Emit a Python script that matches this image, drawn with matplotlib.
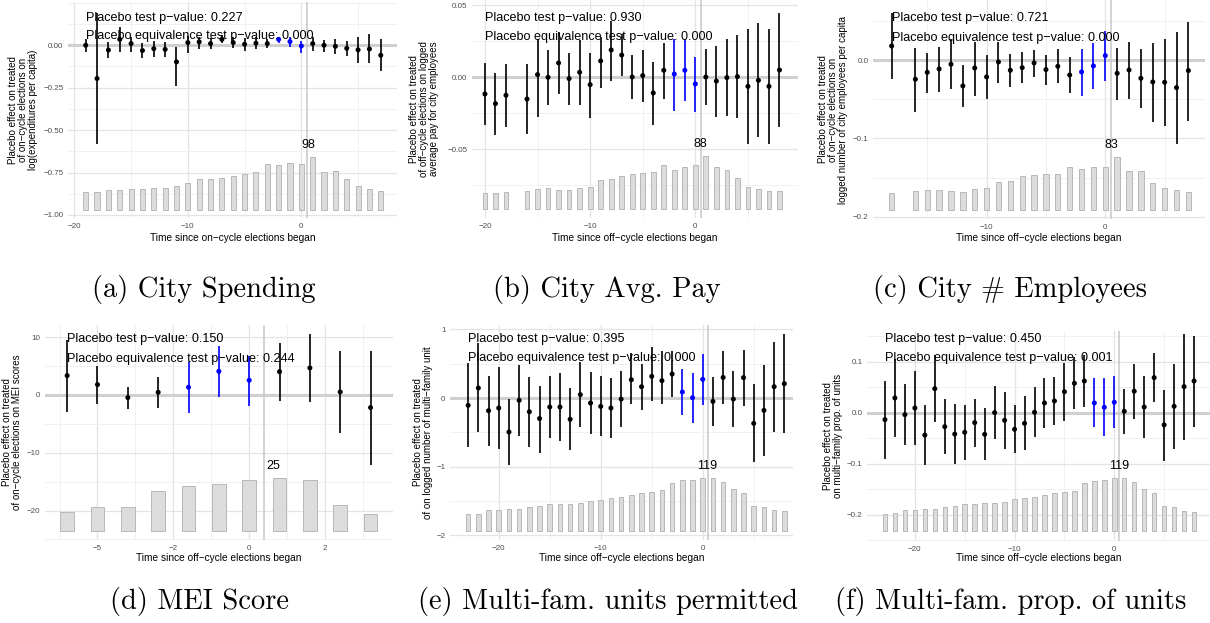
import numpy as np
import matplotlib
matplotlib.use('Agg')
import matplotlib.pyplot as plt
from matplotlib.ticker import FixedLocator, MultipleLocator

plt.rcParams['font.family'] = ['Liberation Sans', 'DejaVu Sans']

# ---------------- data ----------------
# (a) City Spending
a_x = list(range(-19, 8))
a_est = [0.000, -0.196, -0.028, 0.035, 0.010, -0.031, -0.020, -0.024, -0.098, 0.016,
         0.020, 0.010, 0.035, 0.016, 0.006, 0.012, 0.010, 0.035, 0.022, -0.004,
         0.010, 0.000, -0.006, -0.018, -0.027, -0.022, -0.059]
a_lo = [-0.037, -0.580, -0.073, -0.037, -0.037, -0.073, -0.067, -0.071, -0.238, -0.043,
        -0.022, -0.024, 0.012, -0.018, -0.031, -0.024, -0.014, 0.016, -0.012, -0.043,
        -0.031, -0.037, -0.051, -0.063, -0.102, -0.106, -0.153]
a_hi = [0.035, 0.190, 0.022, 0.106, 0.047, 0.012, 0.027, 0.022, -0.008, 0.055,
        0.047, 0.041, 0.059, 0.047, 0.041, 0.047, 0.035, 0.051, 0.051, 0.027,
        0.051, 0.031, 0.035, 0.027, 0.047, 0.067, 0.035]
a_n = [32, 32, 36, 37, 39, 39, 41, 40, 44, 49, 56, 56, 59, 62, 66, 69, 85, 83, 86, 85,
       98, 70, 72, 56, 43, 39, 34]

# (b) City Avg. Pay
b_x = [-20, -19, -18] + list(range(-16, 9))
b_est = [-0.0116, -0.0183, -0.0125, -0.0151, 0.0019, 0.0000, 0.0100, -0.0009, 0.0035, -0.0051,
         0.0114, 0.0190, 0.0155, 0.0002, 0.0012, -0.0109, 0.0049, 0.0023, 0.0049, -0.0046,
         0.0002, -0.0026, -0.0002, 0.0005, -0.0063, -0.0021, -0.0063, 0.0051]
b_lo = [-0.0334, -0.0399, -0.0343, -0.0392, -0.0274, -0.0193, -0.0118, -0.0193, -0.0195, -0.0281,
        -0.0072, -0.0023, 0.0009, -0.0153, -0.0169, -0.0334, -0.0151, -0.0232, -0.0162, -0.0239,
        -0.0195, -0.0274, -0.0271, -0.0285, -0.0464, -0.0418, -0.0464, -0.0343]
b_hi = [0.0102, 0.0032, 0.0093, 0.0090, 0.0265, 0.0190, 0.0318, 0.0172, 0.0260, 0.0172,
        0.0280, 0.0394, 0.0300, 0.0155, 0.0190, 0.0109, 0.0237, 0.0265, 0.0265, 0.0144,
        0.0195, 0.0218, 0.0265, 0.0295, 0.0334, 0.0376, 0.0334, 0.0445]
b_n = [28, 28, 29, 31, 33, 35, 32, 32, 36, 37, 48, 50, 56, 59, 60, 62, 73, 65, 71, 74,
       88, 71, 65, 52, 37, 34, 31, 30]

# (c) City # Employees
c_x = [-18] + list(range(-16, 8))
c_est = [0.0183, -0.0243, -0.0154, -0.0111, -0.0051, -0.0328, -0.0098, -0.0213, -0.0021, -0.0128,
         -0.0094, -0.0034, -0.0119, -0.0077, -0.0188, -0.0149, -0.0072, 0.0060, -0.0166, -0.0124,
         -0.0230, -0.0277, -0.0281, -0.0350, -0.0132]
c_lo = [-0.0243, -0.0657, -0.0422, -0.0401, -0.0371, -0.0601, -0.0452, -0.0499, -0.0286, -0.0337,
        -0.0294, -0.0213, -0.0311, -0.0294, -0.0422, -0.0452, -0.0367, -0.0260, -0.0507, -0.0490,
        -0.0614, -0.0785, -0.0840, -0.1070, -0.0772]
c_hi = [0.0600, 0.0162, 0.0098, 0.0166, 0.0269, -0.0060, 0.0239, 0.0068, 0.0239, 0.0081,
        0.0107, 0.0132, 0.0068, 0.0141, 0.0038, 0.0141, 0.0217, 0.0375, 0.0162, 0.0230,
        0.0145, 0.0217, 0.0269, 0.0358, 0.0495]
c_n = [26, 29, 31, 32, 29, 28, 33, 35, 44, 46, 53, 55, 57, 57, 68, 64, 67, 68, 83, 61,
       61, 43, 35, 32, 28]

# (d) MEI Score
d_x = list(range(-6, 5))
d_est = [3.34, 1.79, -0.46, 0.46, 1.33, 4.09, 2.54, 4.03, 4.67, 0.52, -2.19]
d_lo = [-3.00, -1.56, -2.40, -2.30, -3.05, -0.40, -1.84, -0.98, -1.15, -6.50, -12.10]
d_hi = [9.50, 5.00, 1.38, 3.17, 5.70, 8.47, 6.74, 8.93, 10.50, 7.55, 7.67]
d_n = [9, 11, 11, 19, 21, 22, 24, 25, 24, 12, 8]

# (e) Multi-fam. units permitted
e_x = list(range(-23, 9))
e_est = [-0.107, 0.146, -0.185, -0.146, -0.496, -0.034, -0.200, -0.300, -0.131, -0.131,
         -0.310, 0.049, -0.073, -0.122, -0.146, -0.015, 0.267, 0.165, 0.316, 0.253,
         0.350, 0.088, 0.005, 0.272, -0.049, 0.300, -0.015, 0.297, -0.370, -0.180,
         0.165, 0.209]
e_lo = [-0.72, -0.50, -0.70, -0.74, -0.98, -0.55, -0.71, -0.80, -0.58, -0.62,
        -0.76, -0.42, -0.53, -0.56, -0.58, -0.43, -0.09, -0.17, -0.04, -0.09,
        0.01, -0.25, -0.36, -0.10, -0.41, -0.09, -0.43, -0.12, -0.93, -0.84,
        -0.49, -0.51]
e_hi = [0.51, 0.80, 0.32, 0.45, -0.02, 0.48, 0.31, 0.18, 0.32, 0.36,
        0.14, 0.53, 0.38, 0.32, 0.29, 0.39, 0.66, 0.50, 0.74, 0.68,
        0.69, 0.42, 0.37, 0.64, 0.31, 0.69, 0.40, 0.70, 0.20, 0.48,
        0.82, 0.93]
e_n = [37, 38, 46, 46, 48, 48, 54, 55, 60, 60, 61, 62, 66, 70, 73, 76, 80, 85, 86, 91,
       106, 113, 113, 119, 119, 109, 93, 84, 56, 54, 46, 44]

# (f) Multi-fam. prop. of units
f_x = list(range(-23, 9))
f_est = [-0.0137, 0.0288, -0.0040, 0.0090, -0.0440, 0.0470, -0.0275, -0.0420, -0.0386, -0.0196,
         -0.0425, 0.0000, -0.0150, -0.0327, -0.0210, 0.0007, 0.0190, 0.0229, 0.0410, 0.0575,
         0.0620, 0.0190, 0.0105, 0.0203, 0.0026, 0.0420, 0.0110, 0.0686, -0.0240, 0.0124,
         0.0510, 0.0620]
f_lo = [-0.091, -0.048, -0.064, -0.064, -0.102, -0.018, -0.082, -0.100, -0.092, -0.067,
        -0.093, -0.052, -0.071, -0.080, -0.074, -0.048, -0.031, -0.025, -0.016, 0.0065,
        0.011, -0.029, -0.046, -0.031, -0.042, -0.012, -0.049, 0.0216, -0.094, -0.071,
        -0.053, -0.028]
f_hi = [0.062, 0.106, 0.056, 0.082, 0.014, 0.112, 0.026, 0.017, 0.015, 0.026,
        0.0098, 0.052, 0.041, 0.0144, 0.032, 0.050, 0.068, 0.070, 0.098, 0.109,
        0.113, 0.067, 0.067, 0.071, 0.047, 0.095, 0.071, 0.117, 0.044, 0.095,
        0.154, 0.151]
f_n = [38, 40, 46, 46, 48, 48, 54, 55, 60, 59, 61, 62, 64, 70, 73, 76, 79, 85, 86, 89,
       107, 112, 113, 118, 119, 109, 93, 85, 56, 53, 44, 43]

p_placebo = ['0.227', '0.930', '0.721', '0.150', '0.395', '0.450']
p_equiv = ['0.000', '0.000', '0.000', '0.244', '0.000', '0.001']

captions = ['(a) City Spending', '(b) City Avg. Pay', '(c) City # Employees',
            '(d) MEI Score', '(e) Multi-fam. units permitted', '(f) Multi-fam. prop. of units']

ylabels = ['Placebo effect on treated\nof on\u2212cycle elections on\nlog(expenditures per capita)',
           'Placebo effect on treated\nof off\u2212cycle elections on logged\naverage pay for city employees',
           'Placebo effect on treated\nof on\u2212cycle elections on\nlogged number of city employees per capita',
           'Placebo effect on treated\nof on\u2212cycle elections on MEI scores',
           'Placebo effect on treated\nof on logged number of multi\u2212family unit',
           'Placebo effect on treated\non multi\u2212family prop. of units']

xlabels = ['Time since on\u2212cycle elections began'] + ['Time since off\u2212cycle elections began'] * 5

yt_a = [-1.0, -0.75, -0.5, -0.25, 0.0]
yl_a = ['\u22121.00', '\u22120.75', '\u22120.50', '\u22120.25', '0.00']
yt_b = [-0.05, 0.0, 0.05]
yl_b = ['\u22120.05', '0.00', '0.05']
yt_c = [-0.2, -0.1, 0.0]
yl_c = ['\u22120.2', '\u22120.1', '0.0']
yt_d = [-20, -10, 0, 10]
yl_d = ['\u221220', '\u221210', '0', '10']
yt_e = [-2, -1, 0, 1]
yl_e = ['\u22122', '\u22121', '0', '1']
yt_f = [-0.2, -0.1, 0.0, 0.1]
yl_f = ['\u22120.2', '\u22120.1', '0.0', '0.1']

xt_main = [-20, -10, 0]
xl_main = ['\u221220', '\u221210', '0']
xt_c = [-10, 0]
xl_c = ['\u221210', '0']
xt_d = [-5, -2.5, 0, 2.5]
xl_d = ['\u22125', '\u22122', '0', '2']

treat_x = [-2, -1, 0]

# ---------------- layout (pixels) ----------------
W, H = 1210, 623
fig = plt.figure(figsize=(W / 100, H / 100), dpi=100)


def rect(l, t, r, b):
    return [l / W, 1 - b / H, (r - l) / W, (b - t) / H]


panels = [
    # data, rect px, xlim, ylim, ticks, minor steps, bar base/height, count label x, ylabel x, text y, caption
    dict(d=(a_x, a_est, a_lo, a_hi, a_n), r=(68, 2, 397, 218), xl=(-20.56, 8.43), yl=(-1.018, 0.255),
         yt=(yt_a, yl_a), xt=(xt_main, xl_main), mx=5, my=0.125, base=-0.97, bh=0.314, lx=0.6,
         ylx=23, ty=(0.926, 0.843), cap=(204, 290)),
    dict(d=(b_x, b_est, b_lo, b_hi, b_n), r=(472, 0, 798, 218), xl=(-21.23, 9.76), yl=(-0.0979, 0.0538),
         yt=(yt_b, yl_b), xt=(xt_main, xl_main), mx=5, my=0.025, base=-0.0919, bh=0.0369, lx=0.5,
         ylx=424, ty=(0.916, 0.832), cap=(607, 290)),
    dict(d=(c_x, c_est, c_lo, c_hi, c_n), r=(873, 0, 1205, 219), xl=(-19.57, 8.4), yl=(-0.203, 0.0771),
         yt=(yt_c, yl_c), xt=(xt_c, xl_c), mx=5, my=0.05, base=-0.1915, bh=0.0678, lx=0.55,
         ylx=833, ty=(0.916, 0.827), cap=(1010, 290)),
    dict(d=(d_x, d_est, d_lo, d_hi, d_n), r=(45, 325, 393, 540), xl=(-6.73, 4.74), yl=(-25.1, 12.1),
         yt=(yt_d, yl_d), xt=(xt_d, xl_d), mx=1.25, my=5, base=-23.46, bh=9.11, lx=0.8,
         ylx=12, ty=(0.933, 0.843), cap=(200, 602)),
    dict(d=(e_x, e_est, e_lo, e_hi, e_n), r=(450, 325, 793, 540), xl=(-24.78, 8.85), yl=(-2.071, 1.065),
         yt=(yt_e, yl_e), xt=(xt_main, xl_main), mx=5, my=0.5, base=-1.935, bh=0.773, lx=0.4,
         ylx=423, ty=(0.933, 0.845), cap=(608, 602)),
    dict(d=(f_x, f_est, f_lo, f_hi, f_n), r=(867, 331, 1210, 541), xl=(-24.8, 9.6), yl=(-0.2516, 0.160),
         yt=(yt_f, yl_f), xt=(xt_main, xl_main), mx=5, my=0.05, base=-0.2314, bh=0.104, lx=0.47,
         ylx=833, ty=(0.96, 0.87), cap=(1011, 602)),
]

for i, p in enumerate(panels):
    x, est, lo, hi, n = [np.array(v, dtype=float) for v in p['d']]
    l, t, r, b = p['r']
    ax = fig.add_axes(rect(l, t, r, b))
    ax.set_xlim(*p['xl'])
    ax.set_ylim(*p['yl'])
    for s in ax.spines.values():
        s.set_visible(False)

    ax.yaxis.set_major_locator(FixedLocator(p['yt'][0]))
    ax.set_yticklabels(p['yt'][1])
    ax.xaxis.set_major_locator(FixedLocator(p['xt'][0]))
    ax.set_xticklabels(p['xt'][1])
    ax.xaxis.set_minor_locator(MultipleLocator(p['mx'], offset=p['mx'] if p['mx'] == 1.25 else 0))
    ax.yaxis.set_minor_locator(MultipleLocator(p['my']))
    ax.tick_params(which='both', length=0, labelsize=5.8, labelcolor='#4d4d4d', pad=3.3)
    ax.grid(which='major', color='#e4e4e4', lw=0.9)
    ax.grid(which='minor', color='#efefef', lw=0.6)
    ax.set_axisbelow(True)

    # counts as bars at the bottom
    scale = p['bh'] / n.max()
    ax.bar(x, n * scale, bottom=p['base'], width=0.45, color='#dcdcdc',
           edgecolor='#b0b0b0', linewidth=0.6, zorder=1)
    ax.annotate('%d' % n.max(), xy=(p['lx'], p['base'] + p['bh']), xytext=(0, 8.6),
                textcoords='offset points', ha='center', va='center', fontsize=9, zorder=5)

    ax.axhline(0, color='#d0d0d0', lw=2.2, zorder=2)
    ax.axvline(0.5, color='#c8c8c8', lw=1.1, zorder=2)

    cols = ['#0000ff' if xx in treat_x else 'black' for xx in x]
    ax.vlines(x, lo, hi, colors=cols, lw=1.2, zorder=3)
    ax.scatter(x, est, s=13, c=cols, zorder=4, linewidths=0)

    trans = ax.get_xaxis_transform()
    ax.text(x.min(), p['ty'][0], 'Placebo test p\u2212value: ' + p_placebo[i],
            transform=trans, ha='left', va='center', fontsize=9.1, zorder=6)
    ax.text(x.min(), p['ty'][1], 'Placebo equivalence test p\u2212value: ' + p_equiv[i],
            transform=trans, ha='left', va='center', fontsize=9.1, zorder=6)

    # axis titles
    xlab_y = 238 if t < 100 else 558
    fig.text(((l + r) / 2) / W, 1 - xlab_y / H, xlabels[i], ha='center', va='center', fontsize=7.3)
    fig.text(p['ylx'] / W, 1 - ((t + b) / 2) / H, ylabels[i], rotation=90, ha='center',
             va='center', multialignment='center', fontsize=7, linespacing=1.0)

    fig.text(p['cap'][0] / W, 1 - p['cap'][1] / H, captions[i], ha='center', va='center',
             fontsize=20.5, family='cmr10')

fig.savefig('out.png', dpi=100)
